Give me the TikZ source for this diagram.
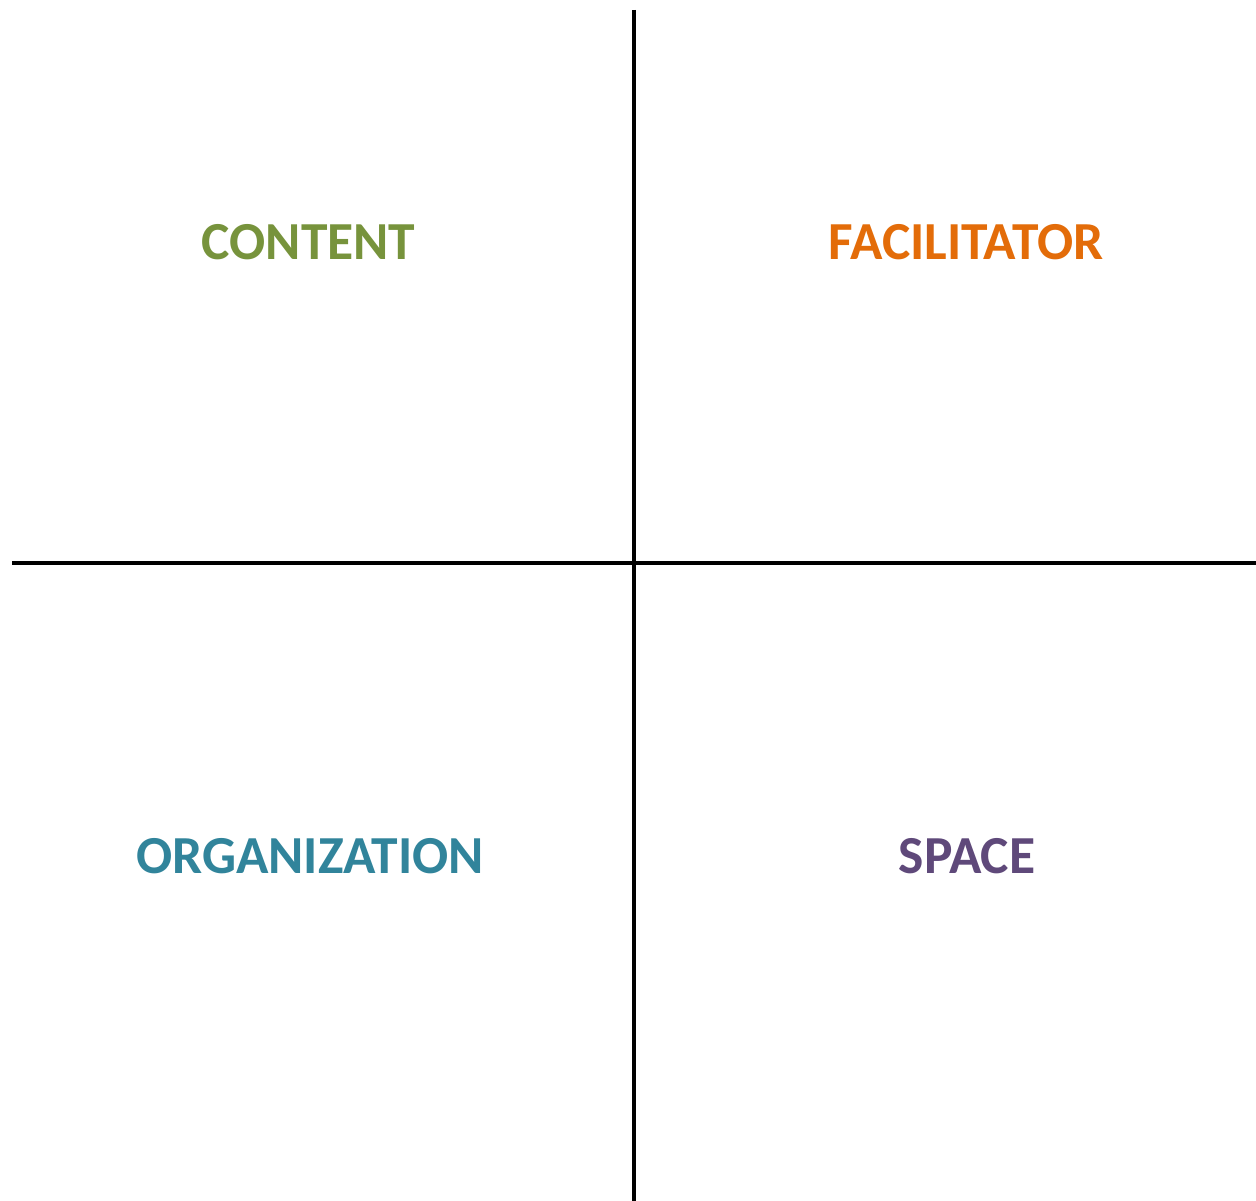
\documentclass[tikz,border=0pt]{standalone}
\usepackage{fontspec}
\setmainfont{Carlito}
\definecolor{cgreen}{HTML}{77933C}
\definecolor{corange}{HTML}{E36C09}
\definecolor{cteal}{HTML}{31849B}
\definecolor{cpurple}{HTML}{5F497A}
\tikzset{
  axis/.style={line width=3.5pt, black},
  quad/.style={font=\fontsize{53.5}{64}\selectfont\bfseries, anchor=base, inner sep=0pt}
}
\begin{document}
\begin{tikzpicture}[x=1pt,y=-1pt]
\useasboundingbox (0,0) rectangle (1256,1201);
\coordinate (vtop) at (634,10);
\coordinate (vbot) at (634,1201);
\coordinate (hleft) at (12,563);
\coordinate (hright) at (1256,563);
\draw[axis] (vtop) -- (vbot);
\draw[axis] (hleft) -- (hright);
\node[quad, text=cgreen] (content) at (308.5,260) {CONTENT};
\node[quad, text=corange] (facilitator) at (966,260) {FACILITATOR};
\node[quad, text=cteal] (organization) at (310,873) {ORGANIZATION};
\node[quad, text=cpurple] (space) at (967,873) {SPACE};
\end{tikzpicture}
\end{document}
